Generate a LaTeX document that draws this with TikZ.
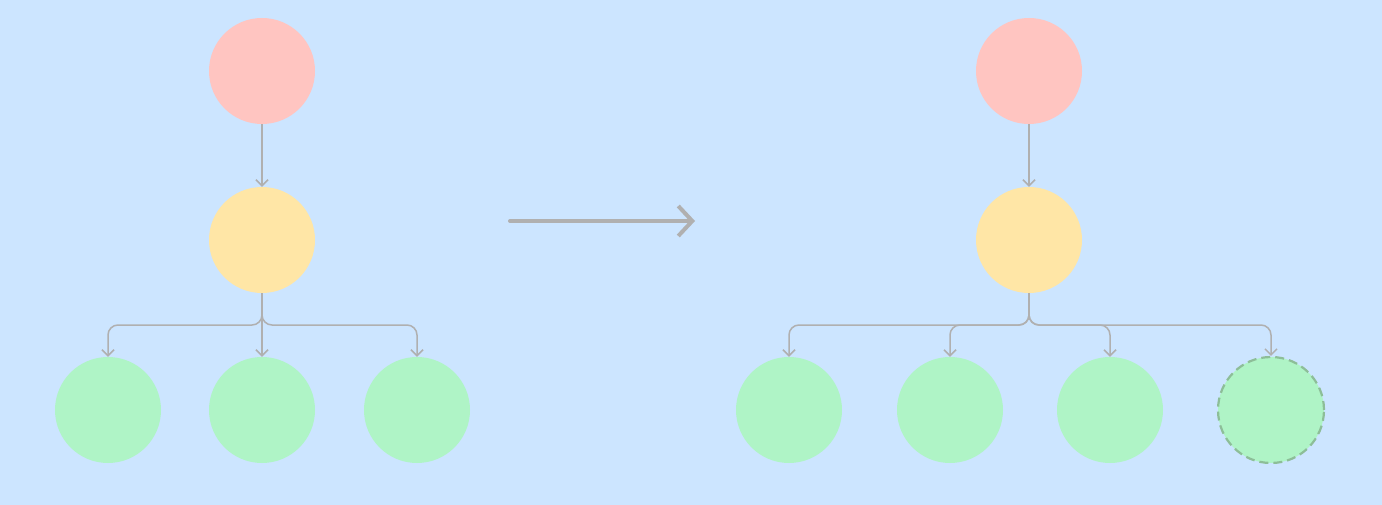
\documentclass[tikz,border=0pt]{standalone}
\usetikzlibrary{arrows.meta}
\definecolor{bg}{HTML}{CCE5FF}
\definecolor{redc}{HTML}{FFC5C1}
\definecolor{yelc}{HTML}{FFE6A6}
\definecolor{grnc}{HTML}{AFF4C6}
\definecolor{dashc}{HTML}{8DBE98}
\definecolor{linec}{HTML}{B0B0B0}
\tikzset{
  circ/.style={circle, minimum size=106pt, inner sep=0pt, draw=none},
  rednode/.style={circ, fill=redc},
  yelnode/.style={circ, fill=yelc},
  grnnode/.style={circ, fill=grnc},
  newnode/.style={circ, fill=grnc, draw=dashc, line width=2.2pt, dash pattern=on 9pt off 5pt},
  conn/.style={draw=linec, line width=1.5pt, rounded corners=10pt, -{Straight Barb[length=6pt,width=12pt]}},
  bigarrow/.style={draw=linec, line width=4pt, line cap=round, -{Straight Barb[length=14pt,width=30pt]}}
}
\begin{document}
\begin{tikzpicture}[x=1pt,y=-1pt]
\fill[bg] (0,0) rectangle (1382,505);
\useasboundingbox (0,0) rectangle (1382,505);
% left tree
\node[rednode] (r1) at (262,71) {};
\node[yelnode] (y1) at (262,240) {};
\node[grnnode] (g1a) at (108,410) {};
\node[grnnode] (g1b) at (262,410) {};
\node[grnnode] (g1c) at (417,410) {};
\draw[conn] (r1.south) -- (y1.north);
\draw[conn] (y1.south) -- (262,325) -| (g1a.north);
\draw[conn] (y1.south) -- (g1b.north);
\draw[conn] (y1.south) -- (262,325) -| (g1c.north);
% transition arrow
\coordinate (a1) at (510,221);
\coordinate (a2) at (695,221);
\draw[bigarrow] (a1) -- (a2);
% right tree
\node[rednode] (r2) at (1029,71) {};
\node[yelnode] (y2) at (1029,240) {};
\node[grnnode] (g2a) at (789,410) {};
\node[grnnode] (g2b) at (950,410) {};
\node[grnnode] (g2c) at (1110,410) {};
\node[newnode] (g2d) at (1271,410) {};
\draw[conn] (r2.south) -- (y2.north);
\draw[conn] (y2.south) -- (1029,325) -| (g2a.north);
\draw[conn] (y2.south) -- (1029,325) -| (g2b.north);
\draw[conn] (y2.south) -- (1029,325) -| (g2c.north);
\draw[conn] (y2.south) -- (1029,325) -| (g2d.north);
\end{tikzpicture}
\end{document}
